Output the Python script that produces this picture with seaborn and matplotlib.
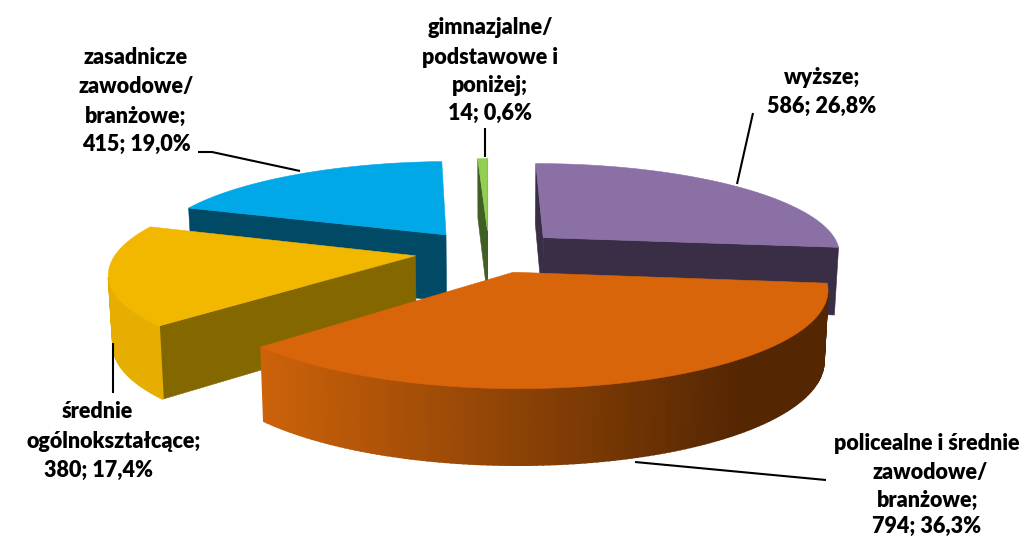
import numpy as np
import matplotlib
matplotlib.use("Agg")
import matplotlib.pyplot as plt
from matplotlib.colors import to_rgb
import seaborn as sns

# ---- data -------------------------------------------------------------
categories = ["wyższe", "policealne i średnie\nzawodowe/\nbranżowe",
              "średnie\nogólnokształcące", "zasadnicze\nzawodowe/\nbranżowe",
              "gimnazjalne/\npodstawowe i\nponiżej"]
values = [586, 794, 380, 415, 14]
percents = ["26,8%", "36,3%", "17,4%", "19,0%", "0,6%"]

top_colors = ["#8A70A4", "#D9650A", "#F2B800", "#00A8E8", "#92CF50"]
cut_colors = ["#3A2E47", "#5A2903", "#856700", "#004A66", "#3F5F24"]
rim_left = ["#3A2E47", "#CC620A", "#E6AE00", "#004A66", "#3F5F24"]
rim_right = ["#3A2E47", "#542602", "#E6AE00", "#004A66", "#3F5F24"]
rim_span = [(700, 840), (265, 745), (100, 170), (180, 450), (480, 490)]
draw_order = [3, 4, 0, 2, 1]

# per-line label anchors (x, y of each text line) and leader lines
label_pos = [[(822, 77), (822, 106)],
             [(927, 443), (930, 472), (928, 500), (927, 526)],
             [(97, 412), (114, 441), (98, 470)],
             [(136, 58), (136, 87), (136, 116), (136, 144)],
             [(490, 27), (490, 57), (490, 85), (490, 113)]]
leaders = [[(753, 113), (737, 184)],
           [(635, 462), (826, 480)],
           [(113, 343), (113, 393)],
           [(198, 152), (212, 152), (300, 171)],
           [(485, 128), (485, 157)]]

# ---- projection settings ----------------------------------------------
CX, H0, D, F, K = 489.0, -307.0, 6.2, 1850.0, 3462.0
DEPTH0, DEPTH1 = 68.0, 7.0
EXPLODE_X, EXPLODE_Y = 0.25, 0.235


def project(X, Y, Z):
    w = D - Y
    return CX + F * X / w * (1 - 0.012 * Z), H0 + K / w + Z * (DEPTH0 + DEPTH1 * Y)


def area(p):
    x, y = np.array(p).T
    return 0.5 * np.sum(x * np.roll(y, -1) - np.roll(x, -1) * y)


sns.set_theme(style="white")
plt.rcParams["font.family"] = ["Lato", "DejaVu Sans"]
fig, ax = plt.subplots(figsize=(10.27, 5.37), dpi=100)
fig.subplots_adjust(0, 0, 1, 1)
ax.set_xlim(0, 1027)
ax.set_ylim(537, 0)
ax.axis("off")

fractions = np.array(values) / np.sum(values)
edges = np.concatenate([[0], np.cumsum(fractions)]) * 2 * np.pi


def poly(pts, color, z, lw=0.4):
    x, y = np.array(pts).T
    ax.fill(x, y, facecolor=color, edgecolor=color, linewidth=lw, zorder=z)


for rank, i in enumerate(draw_order):
    a0, a1 = edges[i], edges[i + 1]
    mid = (a0 + a1) / 2
    ox, oy = EXPLODE_X * np.sin(mid), -EXPLODE_Y * np.cos(mid)
    n = max(6, int((a1 - a0) * 60))
    th = np.linspace(a0, a1, n + 1)
    rx, ry = ox + np.sin(th), oy - np.cos(th)
    z = 10 * rank

    # cut faces (only when they look toward the viewer)
    for t, sign in ((a0, -1), (a1, 1)):
        ex, ey = ox + np.sin(t), oy - np.cos(t)
        pts = [project(ox, oy, 0), project(ex, ey, 0),
               project(ex, ey, 1), project(ox, oy, 1)]
        if area(pts) * sign > 0:
            poly(pts, cut_colors[i], z + 1)

    # rim strips with shading across the width
    c0, c1 = np.array(to_rgb(rim_left[i])), np.array(to_rgb(rim_right[i]))
    x0, x1 = rim_span[i]
    for k in range(n):
        pts = [project(rx[k], ry[k], 0), project(rx[k + 1], ry[k + 1], 0),
               project(rx[k + 1], ry[k + 1], 1), project(rx[k], ry[k], 1)]
        if area(pts) < 0:
            f = np.clip((pts[0][0] - x0) / (x1 - x0), 0, 1)
            poly(pts, tuple(c0 + (c1 - c0) * f), z + 2, lw=1.2)

    # top face
    pts = [project(ox, oy, 0)] + [project(a, b, 0) for a, b in zip(rx, ry)]
    poly(pts, top_colors[i], z + 3)

# ---- labels -----------------------------------------------------------
for i, name in enumerate(categories):
    lines = name.split("\n")
    lines[-1] += ";"
    lines.append(f"{values[i]}; {percents[i]}")
    for line, (x, y) in zip(lines, label_pos[i]):
        ax.text(x, y, line, ha="center", va="center", fontsize=15.5,
                fontweight="heavy", color="black", zorder=100)
    lx, ly = zip(*leaders[i])
    ax.plot(lx, ly, color="black", lw=1.5, zorder=90, solid_capstyle="butt")

fig.savefig("out.png", dpi=100, facecolor="white")
